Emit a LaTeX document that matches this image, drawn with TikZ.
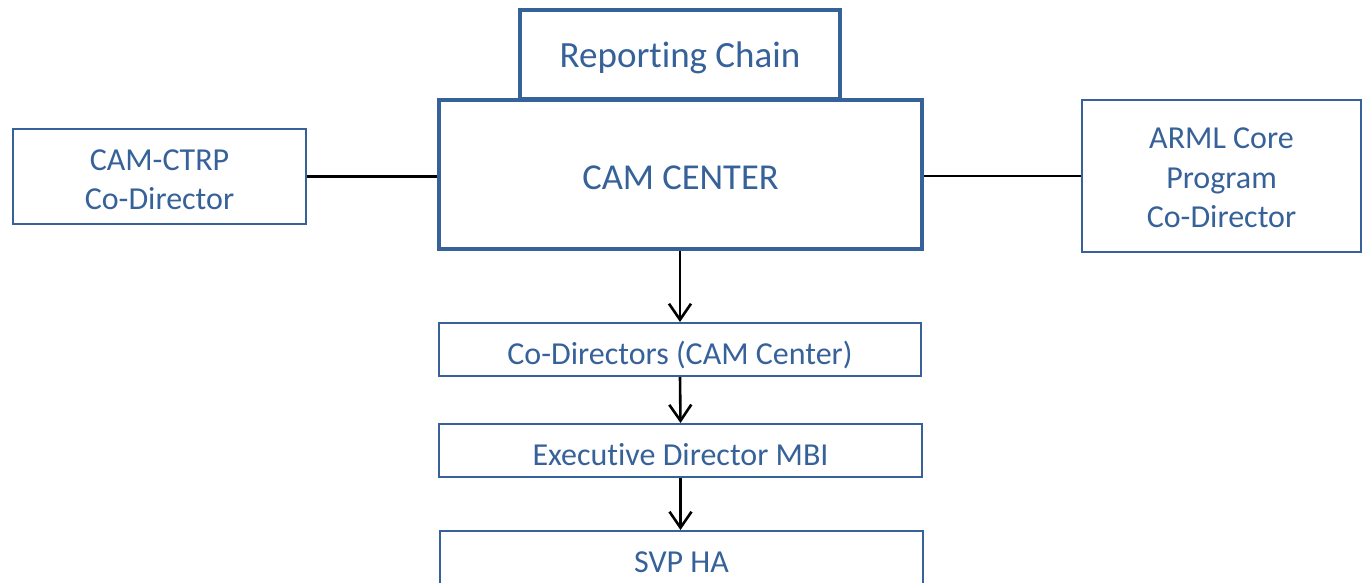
\documentclass[tikz,border=0pt]{standalone}
\usepackage{fontspec}
\setmainfont{Carlito}[Ligatures={NoCommon}]
\usetikzlibrary{arrows.meta}
\definecolor{boxblue}{RGB}{54,98,153}
\newcommand\dn[2]{\raisebox{-#1}[\height][\depth]{#2}}
\tikzset{
  box/.style={draw=boxblue, fill=white, text=boxblue, line width=2pt, inner sep=0pt, align=center,
    font=\fontsize{32}{39}\selectfont},
  thickbox/.style={box, line width=4.3pt},
  conn/.style={draw=black, line width=2.6pt},
  arr/.style={conn, -{Straight Barb[length=16pt, width=22pt, line width=2.6pt]}}
}
\begin{document}
\begin{tikzpicture}[x=1pt, y=-1pt]
\useasboundingbox (0,0) rectangle (1363,582);
\clip (0,0) rectangle (1363,582);
\node[thickbox, minimum width=320pt, minimum height=89pt, font=\fontsize{37}{44}\selectfont] (rep) at (680,54.5) {\dn{3.4pt}{Reporting Chain}};
\node[thickbox, minimum width=483pt, minimum height=149pt, font=\fontsize{36.5}{43}\selectfont] (cam) at (680.5,174.5) {\dn{3.3pt}{CAM CENTER}};
\node[box, minimum width=293pt, minimum height=95pt] (left) at (159.5,176.5) {\dn{3.6pt}{CAM-CTRP}\\\dn{3.6pt}{Co-Director}};
\node[box, minimum width=279pt, minimum height=152pt, font=\fontsize{32}{39.4}\selectfont] (right) at (1221.5,176) {\dn{1.8pt}{ARML Core}\\\dn{1.8pt}{Program}\\\dn{1.8pt}{Co-Director}};
\node[box, minimum width=482pt, minimum height=53pt] (codir) at (680,349.5) {\dn{5.5pt}{Co-Directors (CAM Center)}};
\node[box, minimum width=483pt, minimum height=53pt] (exec) at (680.5,450.5) {\dn{4.5pt}{Executive Director MBI}};
\node[box, minimum width=483pt, minimum height=53pt] (svp) at (681.5,557.5) {\dn{4.5pt}{SVP HA}};
\draw[conn] (left.east) -- (left.east -| cam.west);
\draw[conn] (cam.east |- right.west) -- (right.west);
\draw[arr] (cam.south -| codir.north) -- (codir.north);
\draw[arr] (codir.south) -- (exec.north);
\draw[arr] (exec.south) -- (exec.south |- svp.north);
\end{tikzpicture}
\end{document}
